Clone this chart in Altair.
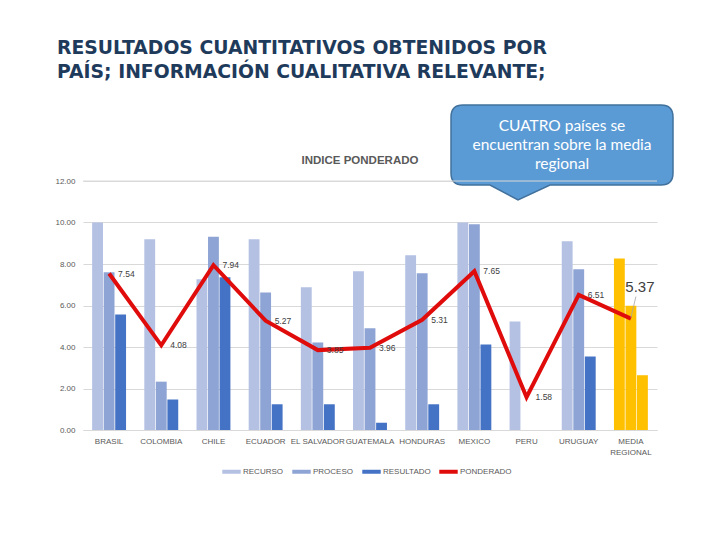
import altair as alt
import pandas as pd

categories = ["BRASIL", "COLOMBIA", "CHILE", "ECUADOR", "EL SALVADOR", "GUATEMALA",
              "HONDURAS", "MEXICO", "PERU", "URUGUAY", "MEDIA REGIONAL"]
recurso = [10.00, 9.19, 7.26, 9.19, 6.88, 7.65, 8.42, 10.00, 5.23, 9.10, 8.26]
proceso = [7.60, 2.33, 9.31, 6.63, 4.22, 4.90, 7.55, 9.92, 0.00, 7.75, 5.99]
resultado = [5.57, 1.47, 7.36, 1.24, 1.24, 0.35, 1.24, 4.12, 0.00, 3.54, 2.64]
ponderado = [7.54, 4.08, 7.94, 5.27, 3.85, 3.96, 5.31, 7.65, 1.58, 6.51, 5.37]

series_names = ["RECURSO", "PROCESO", "RESULTADO"]
legend_names = ["RECURSO", "PROCESO", "RESULTADO", "PONDERADO"]
y_ticks = [0, 2, 4, 6, 8, 10, 12]
title_text = "RESULTADOS CUANTITATIVOS OBTENIDOS POR\nPAÍS; INFORMACIÓN CUALITATIVA RELEVANTE;"
chart_title = "INDICE PONDERADO"
callout_text = "CUATRO países se\nencuentran sobre la media\nregional"
MEDIA = "MEDIA REGIONAL"

rows = []
for i, c in enumerate(categories):
    for s, vals in zip(series_names, [recurso, proceso, resultado]):
        rows.append({"pais": c, "serie": s, "valor": vals[i],
                     "clave": "MEDIA" if c == MEDIA else s})
bars_df = pd.DataFrame(rows)
line_df = pd.DataFrame({"pais": categories, "valor": ponderado, "clave": "PONDERADO"})
lab_df = line_df[line_df["pais"] != MEDIA]
media_df = line_df[line_df["pais"] == MEDIA]
one = pd.DataFrame({"k": [0]})

FONT = "Liberation Sans"
GRAY = "#595959"
C_REC, C_PRO, C_RES, C_PON, C_MED = "#B4C1E3", "#8EA4D4", "#4472C4", "#E00C0C", "#FFC000"

color_scale = alt.Scale(domain=legend_names, range=[C_REC, C_PRO, C_RES, C_PON])
fill_scale = alt.Scale(domain=series_names + ["MEDIA"], range=[C_REC, C_PRO, C_RES, C_MED])

x_scale = alt.Scale(paddingInner=0.35, paddingOuter=0.175)
x_axis = alt.Axis(title=None, labelAngle=0, ticks=False, domain=True, domainColor="#D9D9D9",
                  labelFont=FONT, labelFontSize=8, labelColor=GRAY, labelPadding=7,
                  labelLineHeight=11,
                  labelExpr="datum.value == 'MEDIA REGIONAL' ? ['MEDIA', 'REGIONAL'] : datum.value")
y_scale = alt.Scale(domain=[0, 12], nice=False)
y_axis = alt.Axis(title=None, values=y_ticks, format=".2f", grid=True, gridColor="#D9D9D9",
                  domain=False, ticks=False, labelFont=FONT, labelFontSize=8,
                  labelColor=GRAY, labelPadding=8)

x_enc = alt.X("pais:N", sort=categories, scale=x_scale, axis=x_axis)
y_enc = alt.Y("valor:Q", scale=y_scale, axis=y_axis)

callout_shape = ("M-0.99,-0.40 L0.99,-0.40 Q1.11,-0.40 1.11,-0.28 L1.11,0.28 "
                 "Q1.11,0.40 0.99,0.40 L-0.12,0.40 L-0.44,0.55 L-0.72,0.40 L-0.99,0.40 "
                 "Q-1.11,0.40 -1.11,0.28 L-1.11,-0.28 Q-1.11,-0.40 -0.99,-0.40 Z")

callout = alt.Chart(one).mark_point(
    shape=callout_shape, filled=True, opacity=1, fill="#5B9BD5", stroke="#41719C",
    strokeWidth=1.5, size=40000
).encode(x=alt.value(479), y=alt.value(-36))

callout_txt = alt.Chart(one).mark_text(
    text=callout_text, lineBreak="\n", font="Lato", fontSize=15.5, color="white",
    align="center", baseline="alphabetic", lineHeight=19
).encode(x=alt.value(479), y=alt.value(-50))

top_grid = alt.Chart(one).mark_rule(color="#D9D9D9", strokeWidth=1).encode(
    y=alt.datum(12), x=alt.value(0), x2=alt.value(574))

bars = alt.Chart(bars_df).mark_bar().encode(
    x=x_enc, y=y_enc,
    xOffset=alt.XOffset("serie:N", sort=series_names,
                        scale=alt.Scale(domain=series_names, paddingInner=0.06)),
    fill=alt.Fill("clave:N", scale=fill_scale, legend=None),
)

line = alt.Chart(line_df).mark_line(strokeWidth=4).encode(
    x=x_enc, y=y_enc,
    color=alt.Color("clave:N", scale=color_scale, legend=alt.Legend(
        values=legend_names, orient="none", legendX=137, legendY=279,
        direction="horizontal", title=None, symbolType="stroke", symbolStrokeWidth=4,
        symbolSize=340, labelFontSize=8, labelFont=FONT, labelColor=GRAY,
        labelOffset=0, columnPadding=0)),
)

labels = alt.Chart(lab_df).mark_text(
    align="left", baseline="middle", dx=9, font=FONT, fontSize=8.5, color="#404040"
).encode(x=x_enc, y=y_enc, text=alt.Text("valor:Q", format=".2f"))

big_label = alt.Chart(media_df).mark_text(
    align="center", baseline="middle", dx=9, dy=-32, font=FONT, fontSize=15,
    color="#404040"
).encode(x=x_enc, y=y_enc, text=alt.Text("valor:Q", format=".2f"))

leader = alt.Chart(media_df).mark_rule(
    color="#A6A6A6", strokeWidth=0.8, yOffset=-1, x2Offset=5, y2Offset=-22
).encode(x=x_enc, y=y_enc, x2=alt.X2("pais:N", bandPosition=0.5), y2=alt.Y2("valor:Q"))

title = alt.Chart(one).mark_text(
    text=title_text, lineBreak="\n", font="DejaVu Sans", fontWeight="bold", fontSize=18.8,
    color="#1F3B5C", align="left", baseline="alphabetic", lineHeight=24
).encode(x=alt.value(-26), y=alt.value(-127))

sub = alt.Chart(one).mark_text(
    text=chart_title, font=FONT, fontWeight="bold", fontSize=11.5, color=GRAY,
    align="center", baseline="alphabetic"
).encode(x=alt.value(277), y=alt.value(-17))

chart = alt.layer(
    callout, top_grid, bars, line, labels, leader, big_label, callout_txt, title, sub
).properties(
    width=574, height=249,
    autosize=alt.AutoSizeParams(type="none"),
    padding={"left": 75, "top": 173, "right": 55, "bottom": 102},
    background="white",
).configure_view(stroke=None)

chart.save("out.html", embed_options={"renderer": "svg", "actions": False})
